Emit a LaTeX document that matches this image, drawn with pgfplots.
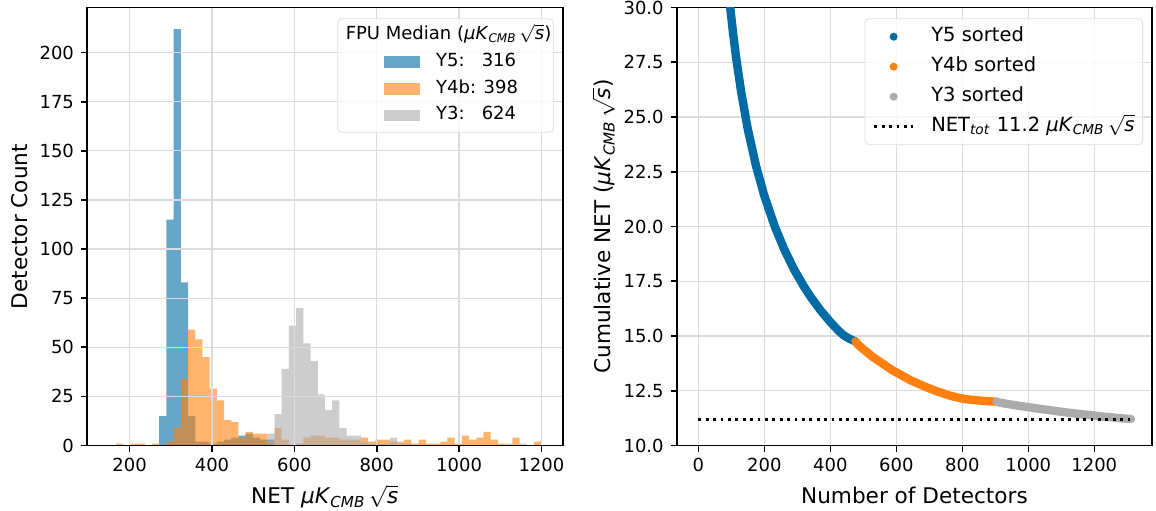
\documentclass[border=0pt]{standalone}
\usepackage{pgfplots}
\usepackage{pgfplotstable}
\pgfplotsset{compat=1.18}
\usepackage{fontspec}
\setmainfont{DejaVu Sans}
\definecolor{cb}{HTML}{006BA4}
\definecolor{co}{HTML}{FF800E}
\definecolor{cg}{HTML}{ABABAB}
\newcommand{\unitx}{\textit{μK}\textsubscript{\textit{CMB}}\,\smash{$\sqrt{\textit{s}}$}}

\pgfplotstableread{
x y
271.8 15
289.3 115
306.8 212
324.3 83
341.8 15
359.3 2
376.8 2
394.3 1
411.8 2
429.3 3
446.8 4
464.3 5
481.8 6
499.3 4
516.8 3
534.3 3
551.8 0
}\dataYfive

\pgfplotstableread{
x y
166.8 1
184.3 0
201.8 1
219.3 1
236.8 0
254.3 1
271.8 0
289.3 2
306.8 9
324.3 34
341.8 59
359.3 54
376.8 45
394.3 29
411.8 23
429.3 13
446.8 12
464.3 4
481.8 7
499.3 6
516.8 6
534.3 2
551.8 9
569.3 3
586.8 0
604.3 1
621.8 4
639.3 5
656.8 5
674.3 4
691.8 4
709.3 3
726.8 3
744.3 3
761.8 4
779.3 2
796.8 3
814.3 3
831.8 2
849.3 2
866.8 3
884.3 1
901.8 3
919.3 1
936.8 1
954.3 2
971.8 4
989.3 1
1006.8 5
1024.3 3
1041.8 4
1059.3 7
1076.8 3
1094.3 1
1111.8 0
1129.3 4
1146.8 0
1164.3 0
1181.8 2
1199.3 0
}\dataYfourb

\pgfplotstableread{
x y
534.3 6
551.8 16
569.3 39
586.8 61
604.3 70
621.8 52
639.3 43
656.8 26
674.3 18
691.8 23
709.3 9
726.8 5
744.3 5
761.8 2
779.3 1
796.8 1
814.3 1
831.8 4
849.3 1
866.8 1
884.3 0
901.8 0
919.3 0
936.8 0
954.3 0
971.8 0
989.3 0
1006.8 0
1024.3 0
1041.8 0
1059.3 0
1076.8 0
1094.3 0
1111.8 1
1129.3 0
1146.8 1
1164.3 0
}\dataYthree

\pgfplotstableread{
n v
90 31.04
98 29.82
105 28.87
115 27.66
130 26.13
150 24.44
175 22.76
200 21.40
232 19.99
260 18.97
290 18.04
320 17.26
342 16.75
370 16.18
400 15.64
425 15.24
440 15.04
450 14.94
459 14.87
469 14.80
476 14.76
}\cumYfive

\pgfplotstableread{
n v
476 14.76
480 14.68
482 14.64
492 14.50
527 14.06
588 13.44
643 12.98
690 12.67
720 12.49
744 12.37
757 12.30
770 12.25
795 12.16
805 12.13
814 12.11
833 12.08
846 12.06
872 12.03
904 12.00
}\cumYfourb

\pgfplotstableread{
n v
904 12.00
910 11.97
927 11.92
968 11.82
1032 11.68
1105 11.53
1160 11.43
1205 11.36
1232 11.31
1251 11.29
1275 11.25
1295 11.23
1311 11.21
}\cumYthree

\begin{document}
\begin{tikzpicture}
\useasboundingbox (0,0) rectangle (578pt,255pt);
\pgfplotsset{
  every axis/.append style={
    scale only axis, height=219pt,
    axis line style={line width=0.8pt, black},
    grid=major, major grid style={gray!28, line width=0.6pt},
    tick align=outside, tick pos=left, major tick length=3pt,
    every tick/.style={black, line width=0.8pt},
    ticklabel style={font=\fontsize{9}{10}\selectfont},
    label style={font=\fontsize{10.8}{13}\selectfont},
    /pgf/number format/assume math mode=true,
    /pgf/number format/1000 sep={},
  },
}
% ---------------- left: histogram
\begin{axis}[
  at={(43.5pt,32.25pt)}, anchor=south west, width=237.85pt,
  xmin=96.4, xmax=1251.7, ymin=0, ymax=223,
  xtick={200,400,...,1200}, ytick={0,25,...,200},
  axis on top,
  xlabel={NET \unitx},
  ylabel={Detector Count},
  xlabel style={at={(axis description cs:0.5,-0.12)}, anchor=center},
  ylabel style={at={(axis description cs:-0.142,0.5)}, anchor=center, rotate=0},
  legend style={at={(1,1)}, anchor=north east, xshift=-4.5pt, yshift=-5.4pt,
    draw=gray!25, rounded corners=2pt, fill=white, fill opacity=0.8, text opacity=1,
    font=\fontsize{9}{10}\selectfont, column sep=0pt, row sep=0pt,
    inner xsep=1pt, inner ysep=1.8pt,
    nodes={inner xsep=0pt, inner ysep=1.6pt, text height=7.2pt, text depth=2.9pt}},
  legend cell align=left,
]
\addplot[ybar interval, fill=cb, fill opacity=0.6, draw=none, forget plot]
  table[x=x,y=y] {\dataYfive};
\addplot[ybar interval, fill=co, fill opacity=0.6, draw=none, forget plot]
  table[x=x,y=y] {\dataYfourb};
\addplot[ybar interval, fill=cg, fill opacity=0.6, draw=none, forget plot]
  table[x=x,y=y] {\dataYthree};
\addlegendimage{empty legend}
\addlegendentry{\hspace*{-45.2pt}FPU Median (\unitx)}
\addlegendimage{legend image code/.code={\path[draw=none, sharp corners, fill=cb, fill opacity=0.6] (0pt,-2.9pt) rectangle (18.2pt,2.9pt); \path[draw=none] (-22pt,0pt) -- (26.2pt,0pt);}}
\addlegendentry{Y5:\phantom{b} 316}
\addlegendimage{legend image code/.code={\path[draw=none, sharp corners, fill=co, fill opacity=0.6] (0pt,-2.9pt) rectangle (18.2pt,2.9pt); \path[draw=none] (-22pt,0pt) -- (26.2pt,0pt);}}
\addlegendentry{Y4b: 398}
\addlegendimage{legend image code/.code={\path[draw=none, sharp corners, fill=cg, fill opacity=0.6] (0pt,-2.9pt) rectangle (18.2pt,2.9pt); \path[draw=none] (-22pt,0pt) -- (26.2pt,0pt);}}
\addlegendentry{Y3:\phantom{b} 624}
\end{axis}
% ---------------- right: cumulative NET
\begin{axis}[
  at={(338.35pt,32.25pt)}, anchor=south west, width=237.75pt,
  xmin=-65.5, xmax=1375.5, ymin=10, ymax=30,
  xtick={0,200,...,1200}, ytick={10,12.5,...,30},
  yticklabel style={/pgf/number format/.cd, fixed, fixed zerofill, precision=1},
  xlabel={Number of Detectors},
  ylabel={Cumulative NET (\unitx)},
  xlabel style={at={(axis description cs:0.5,-0.113)}, anchor=center},
  ylabel style={at={(axis description cs:-0.151,0.5)}, anchor=center, rotate=0},
  legend style={at={(1,1)}, anchor=north east, xshift=-4.6pt, yshift=-5.4pt,
    draw=gray!25, rounded corners=2pt, fill=white, fill opacity=0.8, text opacity=1,
    font=\fontsize{9.75}{11}\selectfont, column sep=0pt, row sep=0pt,
    inner xsep=4pt, inner ysep=1.5pt,
    nodes={inner xsep=0pt, inner ysep=2pt, text height=8pt, text depth=3pt}},
  legend cell align=left,
]
\addplot[cb, line width=4.2pt, line cap=round, line join=round, forget plot]
  table[x=n,y=v] {\cumYfive};
\addplot[co, line width=4.2pt, line cap=round, line join=round, forget plot]
  table[x=n,y=v] {\cumYfourb};
\addplot[cg, line width=4.2pt, line cap=round, line join=round, forget plot]
  table[x=n,y=v] {\cumYthree};
\addplot[black, line width=1.4pt, dash pattern=on 1.4pt off 2.3pt, forget plot]
  coordinates {(0,11.2) (1311,11.2)};
\addlegendimage{legend image code/.code={\path[draw=none, fill=cb, fill opacity=1] (9.6pt,0pt) circle (2pt); \path[draw=none] (0pt,0pt) -- (28.4pt,0pt);}}
\addlegendentry{Y5 sorted}
\addlegendimage{legend image code/.code={\path[draw=none, fill=co, fill opacity=1] (9.6pt,0pt) circle (2pt); \path[draw=none] (0pt,0pt) -- (28.4pt,0pt);}}
\addlegendentry{Y4b sorted}
\addlegendimage{legend image code/.code={\path[draw=none, fill=cg, fill opacity=1] (9.6pt,0pt) circle (2pt); \path[draw=none] (0pt,0pt) -- (28.4pt,0pt);}}
\addlegendentry{Y3 sorted}
\addlegendimage{legend image code/.code={\draw[black, line width=1.4pt, dash pattern=on 1.4pt off 2.3pt, draw opacity=1, sharp corners] (0pt,0pt) -- (19.25pt,0pt); \path[draw=none] (0pt,0pt) -- (28.4pt,0pt);}}
\addlegendentry{NET\textsubscript{\textit{tot}} 11.2 \unitx}
\end{axis}
\end{tikzpicture}
\end{document}
